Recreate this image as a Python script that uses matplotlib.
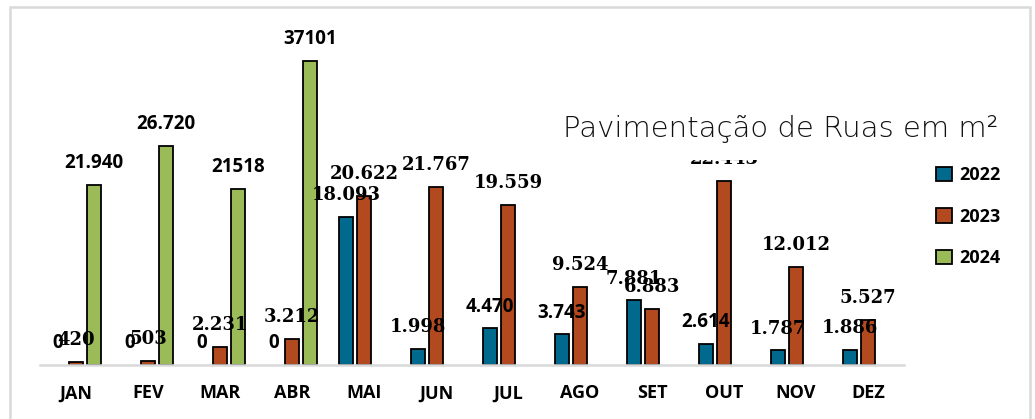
import numpy as np
import matplotlib.pyplot as plt
from matplotlib.patches import Rectangle

meses = ['JAN', 'FEV', 'MAR', 'ABR', 'MAI', 'JUN', 'JUL', 'AGO', 'SET', 'OUT', 'NOV', 'DEZ']
anos = ['2022', '2023', '2024']

v2022 = [0, 0, 0, 0, 18093, 1998, 4470, 3743, 7881, 2614, 1787, 1886]
v2023 = [420, 503, 2231, 3212, 20622, 21767, 19559, 9524, 6883, 22443, 12012, 5527]
v2024 = [21940, 26720, 21518, 37101]

r2022 = ['0', '0', '0', '0', '18.093', '1.998', '4.470', '3.743', '7.881', '2.614', '1.787', '1.886']
r2023 = ['420', '503', '2.231', '3.212', '20.622', '21.767', '19.559', '9.524', '6.883', '22.443', '12.012', '5.527']
r2024 = ['21.940', '26.720', '21518', '37101']

# os rótulos de 2022 misturam fonte serifada e sem serifa
serif2022 = [False, False, False, False, True, True, False, False, True, False, True, True]

cores = ['#006A8E', '#B3491E', '#9BBB59']
sans = ['Open Sans', 'DejaVu Sans']
serif = ['DejaVu Serif']

fig = plt.figure(figsize=(10.35, 4.19), dpi=100)
ax = fig.add_axes([40/1035, 54/419, 864/1035, 328/419])

x = np.arange(len(meses))
w = 0.205
# barras de valor zero não aparecem no original
lw2022 = [1.3 if v else 0 for v in v2022]
b1 = ax.bar(x - 0.25, v2022, w, color=cores[0], edgecolor='black', lw=lw2022)
b2 = ax.bar(x, v2023, w, color=cores[1], edgecolor='black', lw=1.3)
b3 = ax.bar(x[:len(v2024)] + 0.25, v2024, w, color=cores[2], edgecolor='black', lw=1.3)

def rotulos(xs, vals, txts, fams):
    for xi, v, t, f in zip(xs, vals, txts, fams):
        ser = f == 'serif'
        ax.annotate(t, (xi, v), xytext=(0, 12), textcoords='offset points',
                    ha='center', va='baseline', fontweight='bold',
                    family=serif if ser else sans,
                    fontsize=13 if ser else 13.5, color='black', zorder=5)

rotulos(x - 0.25, v2022, r2022, ['serif' if s else 'sans' for s in serif2022])
rotulos(x, v2023, r2023, ['serif'] * 12)
rotulos(x[:len(v2024)] + 0.25, v2024, r2024, ['sans'] * 4)

ax.set_xlim(-0.5, 11.5)
ax.set_ylim(0, 40000)
ax.set_xticks(x)
ax.set_xticklabels(meses, family=sans, fontweight='bold', fontsize=13)
ax.tick_params(axis='x', length=0, pad=14)
ax.set_yticks([])
for s in ['top', 'right', 'left']:
    ax.spines[s].set_visible(False)
ax.spines['bottom'].set_color('#D9D9D9')
ax.spines['bottom'].set_linewidth(1.8)

fig.text(781/1035, 1 - 137/419, 'Pavimentação de Ruas em m²', ha='center', va='baseline',
         fontsize=21, color='#111111', fontweight='light', family=['DejaVu Sans'], zorder=10,
         bbox=dict(facecolor='white', edgecolor='none', pad=12))

h = [b1[4], b2[0], b3[0]]
fig.legend(h, anos, loc='upper left', bbox_to_anchor=(920/1035, 1 - 150/419),
           frameon=False, handlelength=0.85, handleheight=0.85, handletextpad=0.4,
           labelspacing=1.3, prop=dict(family=sans, weight='bold', size=13))

fig.patches.append(Rectangle((10/1035, -0.1), 1020/1035, 1.1 - 7/419, transform=fig.transFigure,
                             fill=False, edgecolor='#D9D9D9', lw=1.8))

fig.savefig('out.png', dpi=100)
